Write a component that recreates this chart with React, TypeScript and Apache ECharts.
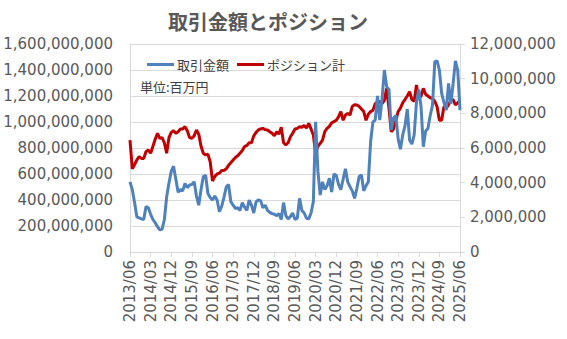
import React, { useEffect, useRef } from "react";
import * as echarts from "echarts";

// Monthly categories 2013/06 .. 2025/06
const START_YEAR = 2013;
const START_MONTH = 6;
const MONTH_COUNT = 145;
const categories: string[] = [];
for (let i = 0; i < MONTH_COUNT; i++) {
  const m = START_MONTH - 1 + i;
  const y = START_YEAR + Math.floor(m / 12);
  const mm = (m % 12) + 1;
  categories.push(`${y}/${mm < 10 ? "0" + mm : mm}`);
}

// 取引金額 (unit: million, left axis)
const tradeAmount: number[] = [
  540, 480, 380, 270, 262, 255, 250, 350, 340, 290,
  250, 225, 195, 170, 175, 250, 425, 530, 620, 660,
  560, 460, 480, 470, 528, 495, 515, 520, 540, 430,
  360, 480, 580, 590, 450, 420, 400, 430, 400, 310,
  350, 420, 500, 520, 387, 360, 335, 340, 320, 380,
  345, 320, 400, 360, 300, 385, 400, 395, 340, 360,
  320, 305, 295, 290, 280, 295, 250, 380, 280, 255,
  272, 300, 250, 260, 413, 320, 300, 260, 255, 300,
  387, 1002, 620, 438, 540, 480, 510, 567, 462, 600,
  590, 520, 480, 560, 640, 540, 502, 470, 413, 490,
  580, 592, 470, 510, 541, 850, 1000, 1015, 1200, 1015,
  1180, 1400, 1272, 1250, 938, 1030, 1050, 870, 790, 900,
  970, 1100, 862, 830, 900, 1150, 1250, 1118, 810, 930,
  950, 1050, 1130, 1464, 1470, 1400, 1220, 1150, 1092, 1297,
  1140, 1297, 1470, 1400, 1092,
];

// ポジション計 (unit: thousand, right axis)
const position: number[] = [
  6460, 4800, 5050, 5310, 5500, 5400, 5400, 5800, 5880, 5700,
  6100, 6500, 6850, 6560, 6600, 6300, 5700, 6600, 6900, 7000,
  6850, 6940, 7100, 7100, 7230, 7000, 6600, 6560, 6700, 7040,
  6800, 6100, 5700, 5600, 5650, 5200, 4100, 4350, 4500, 4550,
  4700, 4700, 4800, 5000, 5150, 5310, 5450, 5550, 5700, 5850,
  6080, 6150, 6300, 6300, 6700, 6900, 7040, 7100, 7130, 7060,
  7040, 6940, 6850, 6700, 6940, 6800, 7200, 6300, 6170, 6300,
  6650, 6850, 7100, 7130, 7230, 7200, 7300, 7150, 7420, 7100,
  6750, 5690, 6100, 6270, 6460, 6940, 7130, 7250, 7450, 7520,
  7600, 7800, 8100, 7600, 7900, 8000, 7900, 8400, 8500, 8480,
  8400, 8250, 8100, 7600, 7950, 8100, 8170, 8560, 8650, 8670,
  8560, 8750, 9440, 8300, 6940, 7100, 7600, 8100, 8300, 8600,
  8800, 9000, 9250, 8800, 8700, 9630, 8800, 9000, 9440, 9100,
  9000, 8900, 8850, 8700, 8380, 7600, 7600, 8400, 8300, 8500,
  8750, 8800, 8480, 8600, 8750,
];

const TITLE = "取引金額とポジション";
const SERIES_NAMES = ["取引金額", "ポジション計"];
const UNIT_NOTE = "単位:百万円";

const fmt = (n: number) => n.toLocaleString("en-US");

export default function App() {
  const ref = useRef<HTMLDivElement>(null);
  useEffect(() => {
    if (!ref.current) return;
    const chart = echarts.init(ref.current, undefined, { renderer: "svg" });
    const numFont = "DejaVu Sans";
    const jpFont = "Noto Sans CJK JP";
    chart.setOption({
      animation: false,
      backgroundColor: "#ffffff",
      title: {
        text: TITLE,
        left: 163,
        top: 6,
        textStyle: {
          fontFamily: jpFont,
          fontSize: 20,
          fontWeight: "bold",
          color: "#595959",
        },
      },
      legend: {
        data: SERIES_NAMES,
        left: 145,
        top: 56,
        padding: 2,
        icon: "rect",
        itemWidth: 27,
        itemHeight: 3,
        itemGap: 8,
        textStyle: { fontFamily: jpFont, fontSize: 13, color: "#404040", padding: [0, 0, 0, -2] },
      },
      graphic: [
        {
          type: "text",
          left: 140,
          top: 80,
          style: { text: UNIT_NOTE, fontFamily: jpFont, fontSize: 13, fill: "#404040" },
        },
      ],
      grid: { left: 130, right: 107, top: 44, bottom: 87 },
      xAxis: {
        type: "category",
        data: categories,
        boundaryGap: false,
        axisLine: { show: true, lineStyle: { color: "#d9d9d9", width: 1 } },
        axisTick: { show: true, interval: 8, length: 5, lineStyle: { color: "#d9d9d9" } },
        axisLabel: {
          interval: 8,
          rotate: 90,
          margin: 8,
          fontFamily: numFont,
          fontSize: 15,
          color: "#595959",
        },
        splitLine: { show: false },
      },
      yAxis: [
        {
          type: "value",
          min: 0,
          max: 1600,
          interval: 200,
          axisLine: { show: true, lineStyle: { color: "#d9d9d9" } },
          axisTick: { show: false },
          axisLabel: {
            margin: 17,
            fontFamily: numFont,
            fontSize: 15,
            color: "#595959",
            formatter: (v: number) => fmt(v * 1000000),
          },
          splitLine: { show: true, lineStyle: { color: "#d9d9d9", width: 1 } },
        },
        {
          type: "value",
          min: 0,
          max: 12000,
          interval: 2000,
          position: "right",
          axisLine: { show: true, lineStyle: { color: "#d9d9d9" } },
          axisTick: { show: true, length: 5, lineStyle: { color: "#d9d9d9" } },
          axisLabel: {
            margin: 10,
            fontFamily: numFont,
            fontSize: 15,
            color: "#595959",
            formatter: (v: number) => fmt(v * 1000),
          },
          splitLine: { show: false },
        },
      ],
      series: [
        {
          name: SERIES_NAMES[0],
          type: "line",
          data: tradeAmount,
          yAxisIndex: 0,
          showSymbol: false,
          z: 3,
          color: "#4f81bd",
          lineStyle: { color: "#4f81bd", width: 3 },
        },
        {
          name: SERIES_NAMES[1],
          type: "line",
          data: position,
          yAxisIndex: 1,
          showSymbol: false,
          z: 2,
          color: "#c00000",
          lineStyle: { color: "#c00000", width: 3 },
        },
      ],
    });
    return () => chart.dispose();
  }, []);
  return (
    <div
      ref={ref}
      style={{ position: "absolute", left: 0, top: 0, width: 567, height: 339 }}
    />
  );
}
